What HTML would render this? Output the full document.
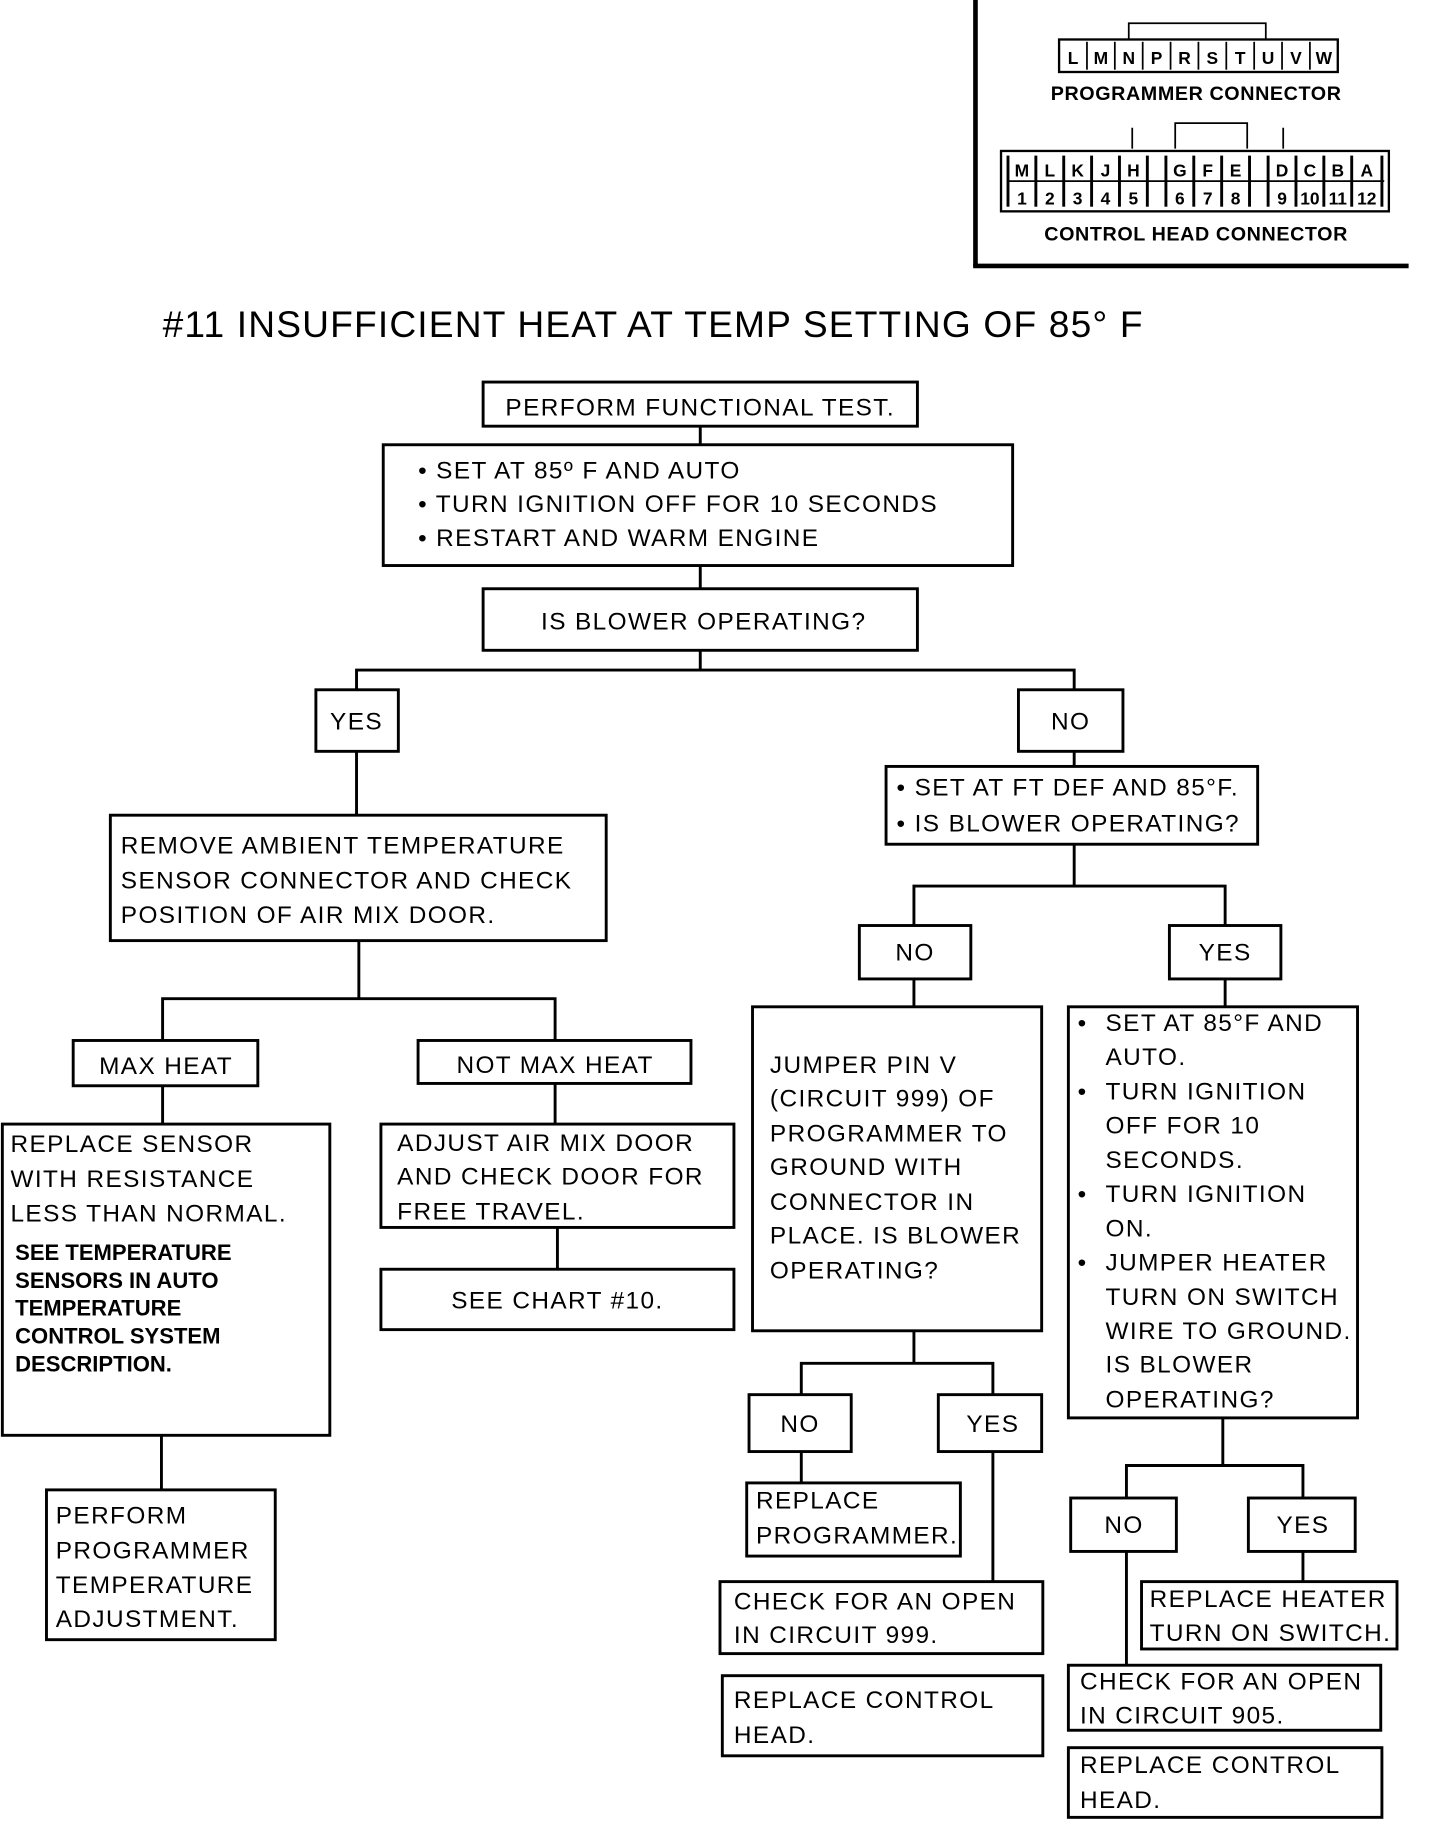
<!DOCTYPE html>
<html><head><meta charset="utf-8"><style>
html,body{margin:0;padding:0;background:#fff;}
svg{display:block;}
text{font-family:"Liberation Sans",sans-serif;fill:#000;}
.t{font-size:21px;letter-spacing:1.2px;}
.b{font-size:19px;font-weight:bold;}
.c{font-size:15px;font-weight:bold;text-anchor:middle;}
.ct{font-size:17px;font-weight:bold;text-anchor:middle;letter-spacing:0.5px;}
rect,line,polyline{fill:none;stroke:#000;stroke-width:2.5;}
</style></head><body>
<svg width="1440" height="1822" viewBox="0 0 1240 1569" xmlns="http://www.w3.org/2000/svg">
<!-- top-right panel -->
<line x1="840" y1="0" x2="840" y2="229" style="stroke-width:4"/>
<line x1="838" y1="229" x2="1213" y2="229" style="stroke-width:4"/>
<polyline points="972,34 972,20 1090,20 1090,34" style="stroke-width:1.5"/>
<rect x="912" y="34" width="240" height="28" style="stroke-width:2"/>
<g>
<line x1="936" y1="36" x2="936" y2="60" style="stroke-width:1.5"/><line x1="960" y1="36" x2="960" y2="60" style="stroke-width:1.5"/><line x1="984" y1="36" x2="984" y2="60" style="stroke-width:1.5"/><line x1="1008" y1="36" x2="1008" y2="60" style="stroke-width:1.5"/><line x1="1032" y1="36" x2="1032" y2="60" style="stroke-width:1.5"/><line x1="1056" y1="36" x2="1056" y2="60" style="stroke-width:1.5"/><line x1="1080" y1="36" x2="1080" y2="60" style="stroke-width:1.5"/><line x1="1104" y1="36" x2="1104" y2="60" style="stroke-width:1.5"/><line x1="1128" y1="36" x2="1128" y2="60" style="stroke-width:1.5"/>
<text class="c" x="924" y="55">L</text><text class="c" x="948" y="55">M</text><text class="c" x="972" y="55">N</text><text class="c" x="996" y="55">P</text><text class="c" x="1020" y="55">R</text><text class="c" x="1044" y="55">S</text><text class="c" x="1068" y="55">T</text><text class="c" x="1092" y="55">U</text><text class="c" x="1116" y="55">V</text><text class="c" x="1140" y="55">W</text>
</g>
<text class="ct" x="1030" y="86">PROGRAMMER CONNECTOR</text>
<polyline points="1012,128 1012,106 1074,106 1074,128" style="stroke-width:1.5"/>
<line x1="975" y1="110" x2="975" y2="128" style="stroke-width:1.5"/><line x1="1105" y1="110" x2="1105" y2="128" style="stroke-width:1.5"/>
<rect x="862" y="130" width="334" height="52" style="stroke-width:2"/>
<line x1="868" y1="156" x2="1192" y2="156" style="stroke-width:1.5"/>
<g style="stroke-width:1.5">
<line x1="868" y1="134" x2="868" y2="178"/><line x1="892" y1="134" x2="892" y2="178"/><line x1="916" y1="134" x2="916" y2="178"/><line x1="940" y1="134" x2="940" y2="178"/><line x1="964" y1="134" x2="964" y2="178"/><line x1="988" y1="134" x2="988" y2="178"/>
<line x1="1004" y1="134" x2="1004" y2="178"/><line x1="1028" y1="134" x2="1028" y2="178"/><line x1="1052" y1="134" x2="1052" y2="178"/><line x1="1076" y1="134" x2="1076" y2="178"/>
<line x1="1092" y1="134" x2="1092" y2="178"/><line x1="1116" y1="134" x2="1116" y2="178"/><line x1="1140" y1="134" x2="1140" y2="178"/><line x1="1164" y1="134" x2="1164" y2="178"/><line x1="1190" y1="134" x2="1190" y2="178"/>
</g>
<text class="c" x="880" y="152">M</text><text class="c" x="904" y="152">L</text><text class="c" x="928" y="152">K</text><text class="c" x="952" y="152">J</text><text class="c" x="976" y="152">H</text>
<text class="c" x="1016" y="152">G</text><text class="c" x="1040" y="152">F</text><text class="c" x="1064" y="152">E</text>
<text class="c" x="1104" y="152">D</text><text class="c" x="1128" y="152">C</text><text class="c" x="1152" y="152">B</text><text class="c" x="1177" y="152">A</text>
<text class="c" x="880" y="176">1</text><text class="c" x="904" y="176">2</text><text class="c" x="928" y="176">3</text><text class="c" x="952" y="176">4</text><text class="c" x="976" y="176">5</text>
<text class="c" x="1016" y="176">6</text><text class="c" x="1040" y="176">7</text><text class="c" x="1064" y="176">8</text>
<text class="c" x="1104" y="176">9</text><text class="c" x="1128" y="176">10</text><text class="c" x="1152" y="176">11</text><text class="c" x="1177" y="176">12</text>
<text class="ct" x="1030" y="207">CONTROL HEAD CONNECTOR</text>

<text x="140" y="290" style="font-size:32px;letter-spacing:1px">#11 INSUFFICIENT HEAT AT TEMP SETTING OF 85° F</text>

<!-- connectors -->
<line x1="603" y1="367" x2="603" y2="383"/><line x1="603" y1="487" x2="603" y2="507"/><line x1="603" y1="560" x2="603" y2="577"/>
<polyline points="307,594 307,577 925,577 925,594"/>
<line x1="307" y1="647" x2="307" y2="702"/>
<line x1="309" y1="810" x2="309" y2="860"/>
<polyline points="140,896 140,860 478,860 478,896"/>
<line x1="140" y1="935" x2="140" y2="968"/><line x1="478" y1="933" x2="478" y2="968"/>
<line x1="139" y1="1236" x2="139" y2="1283"/>
<line x1="480" y1="1057" x2="480" y2="1093"/>
<line x1="925" y1="647" x2="925" y2="660"/>
<line x1="925" y1="727" x2="925" y2="763"/>
<polyline points="787,797 787,763 1055,763 1055,797"/>
<line x1="787" y1="843" x2="787" y2="867"/><line x1="1055" y1="843" x2="1055" y2="867"/>
<line x1="787" y1="1146" x2="787" y2="1174"/>
<polyline points="690,1201 690,1174 855,1174 855,1201"/>
<line x1="690" y1="1250" x2="690" y2="1277"/>
<line x1="855" y1="1250" x2="855" y2="1362"/>
<line x1="1053" y1="1221" x2="1053" y2="1262"/>
<polyline points="970,1290 970,1262 1122,1262 1122,1290"/>
<line x1="1122" y1="1336" x2="1122" y2="1362"/>
<line x1="970" y1="1336" x2="970" y2="1434"/>

<!-- boxes -->
<rect x="416" y="329" width="374" height="38"/>
<text class="t" x="603" y="358" text-anchor="middle">PERFORM FUNCTIONAL TEST.</text>
<rect x="330" y="383" width="542" height="104"/>
<text class="t" x="360" y="412">•  SET AT 85º F AND AUTO</text>
<text class="t" x="360" y="441">•  TURN IGNITION OFF FOR 10 SECONDS</text>
<text class="t" x="360" y="470">•  RESTART AND WARM ENGINE</text>
<rect x="416" y="507" width="374" height="53"/>
<text class="t" x="606" y="542" text-anchor="middle">IS BLOWER OPERATING?</text>
<rect x="272" y="594" width="71" height="53"/><text class="t" x="307" y="628" text-anchor="middle">YES</text>
<rect x="877" y="594" width="90" height="53"/><text class="t" x="922" y="628" text-anchor="middle">NO</text>
<rect x="95" y="702" width="427" height="108"/>
<text class="t" x="104" y="735">REMOVE AMBIENT TEMPERATURE</text>
<text class="t" x="104" y="765">SENSOR CONNECTOR AND CHECK</text>
<text class="t" x="104" y="795">POSITION OF AIR MIX DOOR.</text>
<rect x="63" y="896" width="159" height="39"/><text class="t" x="143" y="925" text-anchor="middle">MAX HEAT</text>
<rect x="360" y="896" width="235" height="37"/><text class="t" x="478" y="924" text-anchor="middle">NOT MAX HEAT</text>
<rect x="2" y="968" width="282" height="268"/>
<text class="t" x="9" y="992">REPLACE SENSOR</text>
<text class="t" x="9" y="1022">WITH RESISTANCE</text>
<text class="t" x="9" y="1052">LESS THAN NORMAL.</text>
<text class="b" x="13" y="1085">SEE TEMPERATURE</text>
<text class="b" x="13" y="1109">SENSORS IN AUTO</text>
<text class="b" x="13" y="1133">TEMPERATURE</text>
<text class="b" x="13" y="1157">CONTROL SYSTEM</text>
<text class="b" x="13" y="1181">DESCRIPTION.</text>
<rect x="40" y="1283" width="197" height="129"/>
<text class="t" x="48" y="1312">PERFORM</text>
<text class="t" x="48" y="1342">PROGRAMMER</text>
<text class="t" x="48" y="1372">TEMPERATURE</text>
<text class="t" x="48" y="1401">ADJUSTMENT.</text>
<rect x="328" y="968" width="304" height="89"/>
<text class="t" x="342" y="991">ADJUST AIR MIX DOOR</text>
<text class="t" x="342" y="1020">AND CHECK DOOR FOR</text>
<text class="t" x="342" y="1050">FREE TRAVEL.</text>
<rect x="328" y="1093" width="304" height="52"/>
<text class="t" x="480" y="1127" text-anchor="middle">SEE CHART  #10.</text>
<rect x="763" y="660" width="320" height="67"/>
<text class="t" x="772" y="685">•  SET AT FT DEF AND 85°F.</text>
<text class="t" x="772" y="716">•  IS BLOWER OPERATING?</text>
<rect x="740" y="797" width="96" height="46"/><text class="t" x="788" y="827" text-anchor="middle">NO</text>
<rect x="1007" y="797" width="96" height="46"/><text class="t" x="1055" y="827" text-anchor="middle">YES</text>
<rect x="648" y="867" width="249" height="279"/>
<text class="t" x="663" y="924">JUMPER PIN V</text>
<text class="t" x="663" y="953">(CIRCUIT 999) OF</text>
<text class="t" x="663" y="983">PROGRAMMER TO</text>
<text class="t" x="663" y="1012">GROUND WITH</text>
<text class="t" x="663" y="1042">CONNECTOR IN</text>
<text class="t" x="663" y="1071">PLACE. IS BLOWER</text>
<text class="t" x="663" y="1101">OPERATING?</text>
<rect x="645" y="1201" width="88" height="49"/><text class="t" x="689" y="1233" text-anchor="middle">NO</text>
<rect x="808" y="1201" width="89" height="49"/><text class="t" x="855" y="1233" text-anchor="middle">YES</text>
<rect x="643" y="1277" width="184" height="63"/>
<text class="t" x="651" y="1299">REPLACE</text>
<text class="t" x="651" y="1329">PROGRAMMER.</text>
<rect x="620" y="1362" width="278" height="62"/>
<text class="t" x="632" y="1386">CHECK FOR AN OPEN</text>
<text class="t" x="632" y="1415">IN CIRCUIT 999.</text>
<rect x="622" y="1443" width="276" height="69"/>
<text class="t" x="632" y="1471">REPLACE CONTROL</text>
<text class="t" x="632" y="1501">HEAD.</text>
<rect x="920" y="867" width="249" height="354"/>
<text class="t" x="928" y="888">•</text><text class="t" x="952" y="888">SET AT 85°F AND</text>
<text class="t" x="952" y="917">AUTO.</text>
<text class="t" x="928" y="947">•</text><text class="t" x="952" y="947">TURN IGNITION</text>
<text class="t" x="952" y="976">OFF FOR 10</text>
<text class="t" x="952" y="1006">SECONDS.</text>
<text class="t" x="928" y="1035">•</text><text class="t" x="952" y="1035">TURN IGNITION</text>
<text class="t" x="952" y="1065">ON.</text>
<text class="t" x="928" y="1094">•</text><text class="t" x="952" y="1094">JUMPER HEATER</text>
<text class="t" x="952" y="1124">TURN ON SWITCH</text>
<text class="t" x="952" y="1153">WIRE TO GROUND.</text>
<text class="t" x="952" y="1182">IS BLOWER</text>
<text class="t" x="952" y="1212">OPERATING?</text>
<rect x="922" y="1290" width="91" height="46"/><text class="t" x="968" y="1320" text-anchor="middle">NO</text>
<rect x="1075" y="1290" width="92" height="46"/><text class="t" x="1122" y="1320" text-anchor="middle">YES</text>
<rect x="983" y="1362" width="220" height="58"/>
<text class="t" x="990" y="1384">REPLACE HEATER</text>
<text class="t" x="990" y="1413">TURN ON SWITCH.</text>
<rect x="920" y="1434" width="269" height="56"/>
<text class="t" x="930" y="1455">CHECK FOR AN OPEN</text>
<text class="t" x="930" y="1484">IN CIRCUIT 905.</text>
<rect x="920" y="1505" width="270" height="60"/>
<text class="t" x="930" y="1527">REPLACE CONTROL</text>
<text class="t" x="930" y="1557">HEAD.</text>
</svg>
</body></html>
